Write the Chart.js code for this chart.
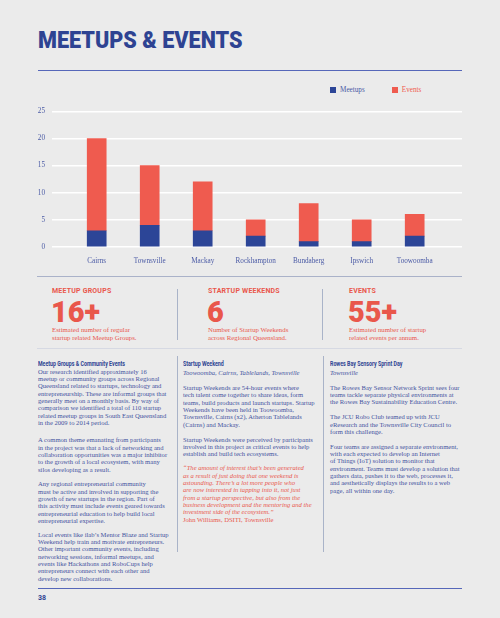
<!DOCTYPE html>
<html><head><meta charset="utf-8">
<script src="https://cdn.jsdelivr.net/npm/chart.js@4.4.1/dist/chart.umd.min.js"></script>
<style>
html,body{margin:0;padding:0;background:#ebebeb;width:500px;height:618px;overflow:hidden;position:relative;font-family:"Liberation Serif","Times New Roman",serif}
.a{position:absolute;white-space:nowrap}
#title{left:38px;top:28px;font:900 24px Roboto,sans-serif;color:#2e4392;line-height:24px;letter-spacing:0px;transform-origin:0 0;transform:scaleX(0.9)}
.rule{position:absolute;height:0}
.sh{font:700 7px Roboto,sans-serif;color:#e9574b;line-height:7px;letter-spacing:0.2px}
.big{font:900 29px Roboto,sans-serif;color:#e9574b;line-height:29px}
.sd{font-size:6.8px;color:#e9574b;line-height:8px}
.hd{font:700 6.6px Roboto,sans-serif;color:#2e4392;line-height:7.33px;transform-origin:0 0;transform:scaleX(0.8)}
.p{font-size:6.6px;color:#44539f;line-height:7.33px}
.it{font-style:italic}
.q{font-size:6.6px;color:#e9574b;line-height:7.33px;font-style:italic}
#legend{left:330px;top:86px;font-size:7.2px;line-height:9px}
#legend span.sw{display:inline-block;width:6px;height:6px;vertical-align:-0.5px;margin-right:4px}
</style></head>
<body>
<div id="title" class="a">MEETUPS &amp; EVENTS</div>
<div class="rule" style="left:38px;top:70px;width:424px;border-top:1.3px solid #5667b9"></div>
<div id="legend" class="a"></div>
<div class="a" style="left:0;top:100px;width:500px;height:175px"><canvas id="c" width="500" height="175"></canvas></div>

<div class="rule" style="left:37px;top:276px;width:425px;border-top:1.5px solid #aab2c9"></div>
<div class="rule" style="left:37px;top:348px;width:425px;border-top:1.5px solid #d6d9e3"></div>
<div class="a" style="left:177px;top:289px;width:0;height:51px;border-left:1px solid #a9b3c8"></div>
<div class="a" style="left:322px;top:289px;width:0;height:51px;border-left:1px solid #a9b3c8"></div>

<div class="a sh" style="left:52px;top:288px">MEETUP GROUPS</div>
<div class="a big" style="left:51px;top:298px">16+</div>
<div class="a sd" style="left:52px;top:326px">Estimated number of regular<br>startup related Meetup Groups.</div>

<div class="a sh" style="left:208px;top:288px">STARTUP WEEKENDS</div>
<div class="a big" style="left:207px;top:298px">6</div>
<div class="a sd" style="left:208px;top:326px">Number of Startup Weekends<br>across Regional Queensland.</div>

<div class="a sh" style="left:349px;top:288px">EVENTS</div>
<div class="a big" style="left:348px;top:298px">55+</div>
<div class="a sd" style="left:349px;top:326px">Estimated number of startup<br>related events per annum.</div>

<div class="a" style="left:177px;top:356px;width:0;height:196px;border-left:1px solid #a9b3c8"></div>
<div class="a" style="left:323px;top:356px;width:0;height:196px;border-left:1px solid #a9b3c8"></div>

<!-- column 1 -->
<div class="a hd" style="left:38px;top:361.3px">Meetup Groups &amp; Community Events</div>
<div class="a p" style="left:38px;top:367.6px">Our research identified approximately 16<br>meetup or community groups across Regional<br>Queensland related to startups, technology and<br>entrepreneurship. These are informal groups that<br>generally meet on a monthly basis. By way of<br>comparison we identified a total of 110 startup<br>related meetup groups in South East Queensland<br>in the 2009 to 2014 period.</div>
<div class="a p" style="left:38px;top:436.3px">A common theme emanating from participants<br>in the project was that a lack of networking and<br>collaboration opportunities was a major inhibitor<br>to the growth of a local ecosystem, with many<br>silos developing as a result.</div>
<div class="a p" style="left:38px;top:480.3px">Any regional entrepreneurial community<br>must be active and involved in supporting the<br>growth of new startups in the region. Part of<br>this activity must include events geared towards<br>entrepreneurial education to help build local<br>entrepreneurial expertise.</div>
<div class="a p" style="left:38px;top:530.6px">Local events like ilab’s Mentor Blaze and Startup<br>Weekend help train and motivate entrepreneurs.<br>Other important community events, including<br>networking sessions, informal meetups, and<br>events like Hackathons and RoboCups help<br>entrepreneurs connect with each other and<br>develop new collaborations.</div>

<!-- column 2 -->
<div class="a hd" style="left:183px;top:361.3px">Startup Weekend</div>
<div class="a p it" style="left:183px;top:369px">Toowoomba, Cairns, Tablelands, Townsville</div>
<div class="a p" style="left:183px;top:384px">Startup Weekends are 54-hour events where<br>tech talent come together to share ideas, form<br>teams, build products and launch startups. Startup<br>Weekends have been held in Toowoomba,<br>Townsville, Cairns (x2), Atherton Tablelands<br>(Cairns) and Mackay.</div>
<div class="a p" style="left:183px;top:435.6px">Startup Weekends were perceived by participants<br>involved in this project as critical events to help<br>establish and build tech ecosystems.</div>
<div class="a q" style="left:183px;top:464.3px">“The amount of interest that’s been generated<br>as a result of just doing that one weekend is<br>astounding. There’s a lot more people who<br>are now interested in tapping into it, not just<br>from a startup perspective, but also from the<br>business development and the mentoring and the<br>investment side of the ecosystem.”</div>
<div class="a p" style="left:183px;top:516px;color:#e9574b">John Williams, DSITI, Townsville</div>

<!-- column 3 -->
<div class="a hd" style="left:330px;top:361.3px">Rowes Bay Sensory Sprint Day</div>
<div class="a p it" style="left:330px;top:369.3px">Townsville</div>
<div class="a p" style="left:330px;top:383.6px">The Rowes Bay Sensor Network Sprint sees four<br>teams tackle separate physical environments at<br>the Rowes Bay Sustainability Education Centre.</div>
<div class="a p" style="left:330px;top:413.3px">The JCU Robo Club teamed up with JCU<br>eResearch and the Townsville City Council to<br>form this challenge.</div>
<div class="a p" style="left:330px;top:442.6px">Four teams are assigned a separate environment,<br>with each expected to develop an Internet<br>of Things (IoT) solution to monitor that<br>environment. Teams must develop a solution that<br>gathers data, pushes it to the web, processes it,<br>and aesthetically displays the results to a web<br>page, all within one day.</div>

<div class="rule" style="left:38px;top:588px;width:424px;border-top:1.3px solid #5667b9"></div>
<div class="a" style="left:38px;top:594px;font:700 7px Roboto,sans-serif;color:#2e4392;line-height:8px">38</div>

<script>
const categories = ["Cairns","Townsville","Mackay","Rockhampton","Bundaberg","Ipswich","Toowoomba"];
const meetups = [3,4,3,2,1,1,2];
const events = [17,11,9,3,7,4,4];
const yTicks = [0,5,10,15,20,25];
const seriesNames = ["Meetups","Events"];
const seriesColors = ["#2c4597","#ef5b4f"];
const legendTextColors = ["#4a5aa5","#ef5b4f"];

// legend
const lg = document.getElementById('legend');
lg.innerHTML = seriesNames.map((n,i)=>`<span style="display:inline-block;${i? 'margin-left:27px;':''}color:${legendTextColors[i]}"><span class="sw" style="background:${seriesColors[i]}"></span>${n}</span>`).join('');

const toPts = arr => arr.map((v,i)=>({x:i,y:v}));
new Chart(document.getElementById('c'), {
  type:'bar',
  data:{datasets:[
    {label:seriesNames[0],data:toPts(meetups),backgroundColor:seriesColors[0],barThickness:19,borderWidth:0},
    {label:seriesNames[1],data:toPts(events),backgroundColor:seriesColors[1],barThickness:19,borderWidth:0}
  ]},
  options:{
    responsive:false,animation:false,
    layout:{padding:{left:0,right:38,top:11,bottom:0}},
    plugins:{legend:{display:false},tooltip:{enabled:false}},
    scales:{
      x:{type:'linear',stacked:true,min:-0.291,max:6.34,
        grid:{display:false,drawTicks:false},border:{display:false},
        afterBuildTicks:s=>{s.ticks=categories.map((c,i)=>({value:i}));},
        afterFit:s=>{s.height=28;},
        ticks:{padding:10,autoSkip:false,maxRotation:0,color:'#4a5aa5',font:{family:'"Liberation Serif", serif',size:7.2},callback:v=>categories[v]??''}
      },
      y:{stacked:true,min:0,max:25,
        grid:{color:'#ffffff',lineWidth:1.5,drawTicks:false},border:{display:false},
        afterBuildTicks:s=>{s.ticks=yTicks.map(v=>({value:v}));},
        afterFit:s=>{s.width=52;},
        ticks:{padding:7,color:'#4a5aa5',font:{family:'"Liberation Serif", serif',size:7.2}}
      }
    }
  }
});
</script>
</body></html>
